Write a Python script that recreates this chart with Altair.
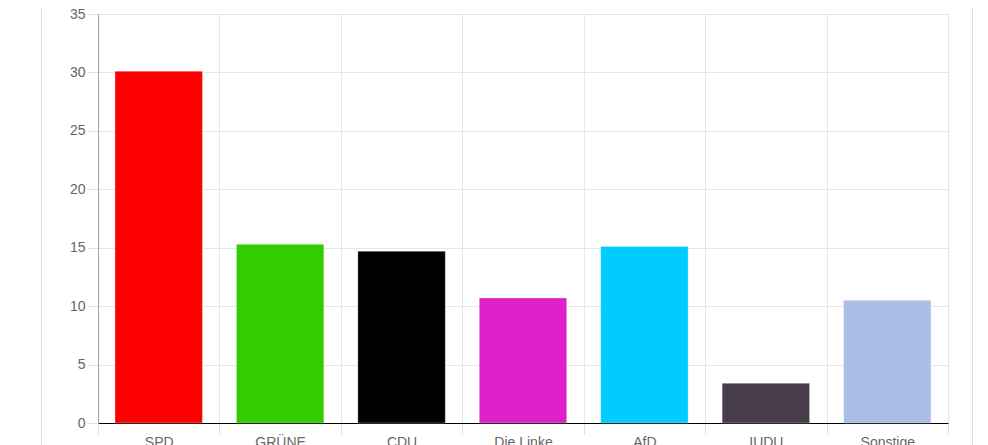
import altair as alt
import pandas as pd

parties = ["SPD", "GRÜNE", "CDU", "Die Linke", "AfD", "IUDU", "Sonstige"]
shares = [30.1, 15.3, 14.7, 10.7, 15.1, 3.4, 10.5]
colors = ["#FF0000", "#33CC00", "#000000", "#DF20C8", "#00CCFF", "#483D4B", "#ABBFE6"]
y_ticks = [0, 5, 10, 15, 20, 25, 30, 35]

df = pd.DataFrame({"party": parties, "share": shares, "color": colors})

FONT = "Liberation Sans"

bars = alt.Chart(df).mark_bar(
    width=alt.RelativeBandSize(0.72),
    stroke="white", strokeOpacity=0.3, strokeWidth=1,
).encode(
    x=alt.X("party:N", sort=parties, title=None,
            scale=alt.Scale(paddingInner=0, paddingOuter=0),
            axis=alt.Axis(tickBand="extent", labelAngle=0, grid=True,
                          gridColor="#e6e6e6", tickColor="#e0e0e0", tickSize=11,
                          labelPadding=1, labelFont=FONT, labelFontSize=14,
                          labelColor="#666666", domainColor="#000000",
                          domainWidth=1.2)),
    y=alt.Y("share:Q", title=None,
            scale=alt.Scale(domain=[0, 35], nice=False),
            axis=alt.Axis(values=y_ticks, grid=True, gridColor="#e6e6e6",
                          tickColor="#e0e0e0", tickSize=11, labelPadding=2,
                          labelFont=FONT, labelFontSize=14, labelColor="#666666",
                          domainColor="#a0a0a0")),
    color=alt.Color("color:N", scale=None, legend=None),
)

one = alt.Data(values=[{"a": 1}])
border_left = alt.Chart(one).mark_rule(color="#dddddd", strokeWidth=1).encode(
    x=alt.value(-56.5), y=alt.value(-20), y2=alt.value(470),
)
border_right = alt.Chart(one).mark_rule(color="#dddddd", strokeWidth=1).encode(
    x=alt.value(874.5), y=alt.value(-20), y2=alt.value(470),
)

chart = alt.layer(border_left, border_right, bars).properties(
    width=850, height=409,
    autosize=alt.AutoSizeParams(type="none"),
    padding={"left": 90, "top": 6, "right": 30, "bottom": 40},
).configure_view(stroke="#e6e6e6")

chart.save("out.html", embed_options={"renderer": "svg", "actions": False})
